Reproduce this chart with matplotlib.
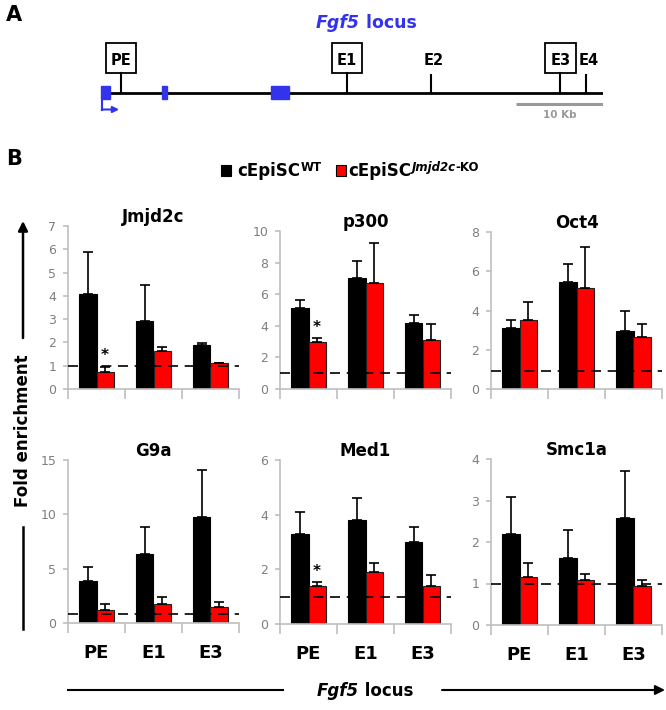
import matplotlib.pyplot as plt
from matplotlib.patches import Rectangle
import numpy as np

plt.rcParams['font.family'] = ['DejaVu Sans']

# ChIP-qPCR fold enrichment at the Fgf5 locus
targets = ["Jmjd2c", "p300", "Oct4", "G9a", "Med1", "Smc1a"]
regions = ["PE", "E1", "E3"]
wt_mean = [[4.07, 2.90, 1.90], [5.15, 7.04, 4.16], [3.12, 5.45, 2.97],
           [3.83, 6.31, 9.80], [3.28, 3.81, 2.99], [2.19, 1.61, 2.58]]
wt_err = [[1.80, 1.56, 0.09], [0.48, 1.09, 0.50], [0.38, 0.92, 1.02],
          [1.28, 2.51, 4.28], [0.81, 0.81, 0.56], [0.90, 0.68, 1.14]]
ko_mean = [[0.75, 1.63, 1.10], [3.00, 6.70, 3.09], [3.51, 5.16, 2.63],
           [1.19, 1.74, 1.44], [1.40, 1.91, 1.40], [1.15, 1.09, 0.95]]
ko_err = [[0.21, 0.19, 0.03], [0.21, 2.52, 1.05], [0.94, 2.07, 0.70],
          [0.52, 0.68, 0.52], [0.12, 0.33, 0.39], [0.34, 0.15, 0.14]]
y_max = [7, 10, 8, 15, 6, 4]
y_step = [1, 2, 2, 5, 2, 1]
baseline = [1.0, 1.0, 0.9, 0.85, 1.0, 1.0]
significant = [(0, 0), (1, 0), (4, 0)]  # (panel, region) marked with *

# Fgf5 locus map, kb from the TSS
locus_kb = 57.6
elements = ["PE", "E1", "E2", "E3", "E4"]
element_kb = [2.2, 28.2, 37.8, 52.7, 55.6]
element_boxed = [True, True, False, True, False]
exon_start = [-0.05, 6.9, 19.5]
exon_end = [0.95, 7.5, 21.5]
scale_kb = 10

W, H = 666, 710
fig = plt.figure(figsize=(W / 100, H / 100), dpi=100)


def px_axes(left, top, right, bottom):
    return fig.add_axes([left / W, 1 - bottom / H, (right - left) / W, (bottom - top) / H])


BLUE = "#3333ee"
GREY = "#bfbfbf"

# overlay in pixel coordinates for labels and arrows
ov = px_axes(0, 0, W, H)
ov.set_xlim(0, W)
ov.set_ylim(H, 0)
ov.axis("off")

# ---- panel A: locus map ----
ov.text(6, 15, "A", fontsize=15, fontweight="bold", va="center")
t = ov.text(316, 28, "Fgf5", fontsize=12.5, fontweight="bold", fontstyle="italic",
            color=BLUE, va="baseline")
ov.annotate(" locus", xy=(1, 0), xycoords=t, va="bottom", fontsize=12.5,
            fontweight="bold", color=BLUE)

axl = px_axes(101.7, 0, 603, 160)
axl.set_xlim(0, locus_kb)
axl.set_ylim(160, 0)
axl.axis("off")
axl.plot([0, locus_kb], [92.7, 92.7], color="black", lw=2, solid_capstyle="butt")
for s, e in zip(exon_start, exon_end):
    axl.add_patch(Rectangle((s, 85.5), e - s, 13.5, color=BLUE, zorder=3, clip_on=False))
axl.plot([0, 0], [99, 109.5], color=BLUE, lw=1.5, clip_on=False)
axl.annotate("", xy=(2.0, 109.5), xytext=(0, 109.5),
             arrowprops=dict(arrowstyle="-|>", color=BLUE, lw=1.5, mutation_scale=9,
                             shrinkA=0, shrinkB=0))
for name, kb, boxed in zip(elements, element_kb, element_boxed):
    if boxed:
        axl.plot([kb, kb], [92.7, 73.3], color="black", lw=1.5)
        axl.add_patch(Rectangle((kb - 1.75, 43.3), 3.5, 30, facecolor="white",
                                edgecolor="black", lw=1.3))
        axl.text(kb, 65, name, ha="center", va="baseline", fontsize=10.5, fontweight="bold")
    else:
        axl.plot([kb, kb], [92.7, 75], color="black", lw=1.5)
        axl.text(kb + 0.4, 65, name, ha="center", va="baseline", fontsize=10.5,
                 fontweight="bold")
axl.plot([locus_kb - scale_kb, locus_kb], [104, 104], color="#999999", lw=2.2,
         solid_capstyle="butt")
axl.text(locus_kb - scale_kb / 2, 115.5, "10 Kb", ha="center", va="center", fontsize=7.5,
         fontweight="bold", color="#999999")

# ---- panel B: legend ----
ov.text(6, 159, "B", fontsize=15, fontweight="bold", va="center")
ov.add_patch(Rectangle((221, 165), 10, 11, facecolor="black", edgecolor="black", lw=0.8))
t1 = ov.text(237, 176, "cEpiSC", fontsize=12, fontweight="bold", va="baseline")
ov.annotate("WT", xy=(1, 0), xycoords=t1, xytext=(0.5, 4), textcoords="offset points",
            va="bottom", fontsize=8.5, fontweight="bold")
ov.add_patch(Rectangle((336, 165), 10, 11, facecolor="#ff0000", edgecolor="black", lw=0.8))
t2 = ov.text(348, 176, "cEpiSC", fontsize=12, fontweight="bold", va="baseline")
s2 = ov.annotate("Jmjd2c", xy=(1, 0), xycoords=t2, xytext=(0.5, 4),
                 textcoords="offset points", va="bottom", fontsize=8.5, fontweight="bold",
                 fontstyle="italic")
ov.annotate("-KO", xy=(1, 0), xycoords=s2, va="bottom", fontsize=8.5, fontweight="bold")

# axis label and arrows
ov.text(23, 431, "Fold enrichment", rotation=90, ha="center", va="center", fontsize=12,
        fontweight="bold")
ov.annotate("", xy=(23, 221), xytext=(23, 338),
            arrowprops=dict(arrowstyle="-|>", color="black", lw=1.8, mutation_scale=14,
                            shrinkA=0, shrinkB=0))
ov.plot([23, 23], [527, 629], color="black", lw=1.8)
ov.plot([68, 283], [690, 690], color="black", lw=1.5)
ov.annotate("", xy=(665, 690), xytext=(442, 690),
            arrowprops=dict(arrowstyle="-|>", color="black", lw=1.5, mutation_scale=14,
                            shrinkA=0, shrinkB=0))
t3 = ov.text(317, 696, "Fgf5", fontsize=12, fontweight="bold", fontstyle="italic",
             va="baseline")
ov.annotate(" locus", xy=(1, 0), xycoords=t3, va="bottom", fontsize=12, fontweight="bold")

# ---- bar panels ----
lefts = [68, 280, 491]
tops = [226, 231, 232, 460, 460, 459]
bottoms = [389, 389, 389, 623, 624, 625]
x = np.arange(len(regions))
bw = 0.3
for i, name in enumerate(targets):
    col = i % 3
    ax = px_axes(lefts[col], tops[i], lefts[col] + 171, bottoms[i])
    ax.bar(x - bw / 2, wt_mean[i], bw, color="black", edgecolor="black", lw=0.8, zorder=2)
    ax.bar(x + bw / 2, ko_mean[i], bw, color="#ff0000", edgecolor="#222222", lw=0.8,
           zorder=2)
    ax.errorbar(x - bw / 2, wt_mean[i], yerr=[np.zeros(3), wt_err[i]], fmt="none",
                ecolor="black", elinewidth=1.2, capsize=3.5, capthick=1.2, zorder=3)
    ax.errorbar(x + bw / 2, ko_mean[i], yerr=[np.zeros(3), ko_err[i]], fmt="none",
                ecolor="black", elinewidth=1.2, capsize=3.5, capthick=1.2, zorder=3)
    ax.axhline(baseline[i], color="black", lw=1.2, ls=(0, (6, 4)), zorder=4)
    for p, r in significant:
        if p == i:
            ax.annotate("*", xy=(r + bw / 2, ko_mean[i][r] + ko_err[i][r]),
                        xytext=(0, 8), textcoords="offset points", ha="center",
                        va="center", fontsize=11, fontweight="bold")

    ax.set_xlim(-0.5, 2.5)
    ax.set_ylim(0, y_max[i])
    ax.set_yticks(np.arange(0, y_max[i] + 0.01, y_step[i]))
    ax.set_xticks(x)
    ax.set_xticks([-0.5, 0.5, 1.5, 2.5], minor=True)
    if i >= 3:
        ax.set_xticklabels(regions, fontsize=13, fontweight="bold")
    else:
        ax.set_xticklabels([])
    ax.tick_params(axis="x", which="major", length=0, pad=15)
    ax.tick_params(axis="x", which="minor", length=7, width=1.2, color=GREY)
    ax.tick_params(axis="y", length=3.5, width=1.2, color=GREY, labelcolor="#7f7f7f",
                   labelsize=9, pad=5)
    for side in ["top", "right"]:
        ax.spines[side].set_visible(False)
    for side in ["left", "bottom"]:
        ax.spines[side].set_color(GREY)
        ax.spines[side].set_linewidth(1.2)
    ax.set_title(name, fontsize=12, fontweight="bold", pad=3)

fig.savefig("out.png", dpi=100)
